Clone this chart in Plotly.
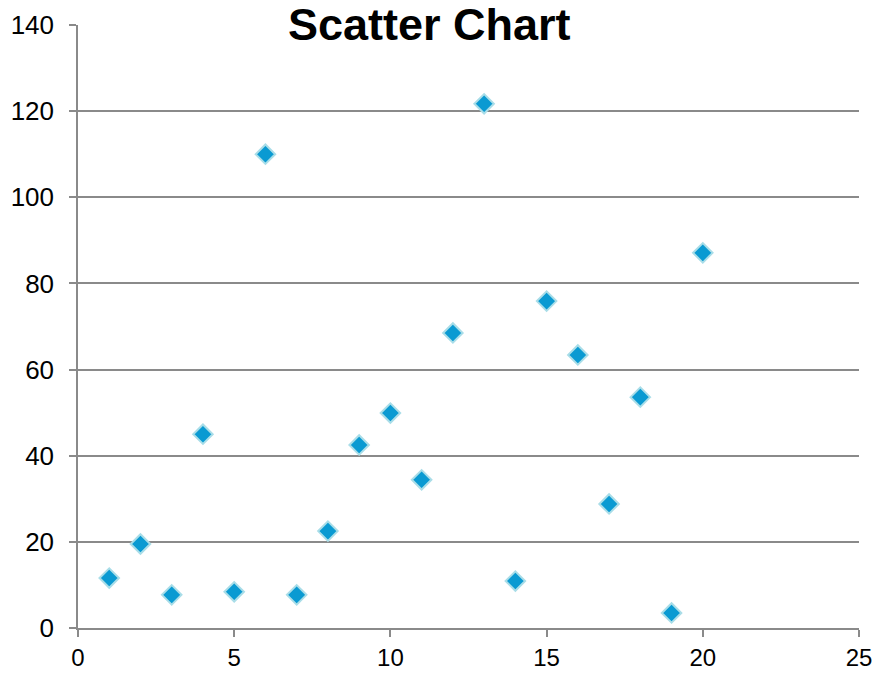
import plotly.graph_objects as go

x_values = [1, 2, 3, 4, 5, 6, 7, 8, 9, 10, 11, 12, 13, 14, 15, 16, 17, 18, 19, 20]
y_values = [11.6, 19.5, 7.7, 45.0, 8.4, 110.0, 7.7, 22.5, 42.5, 49.9,
            34.4, 68.5, 121.7, 10.9, 75.9, 63.4, 28.8, 53.6, 3.5, 87.1]
chart_title = "Scatter Chart"

fig = go.Figure()
fig.add_trace(go.Scatter(
    x=x_values, y=y_values, mode="markers",
    marker=dict(symbol="diamond", size=15, color="#0a9ad2",
                line=dict(color="#a9dde8", width=2)),
    showlegend=False, cliponaxis=False,
))

axis_gray = "#8a8a8a"
fig.update_layout(
    width=881, height=673,
    margin=dict(l=78, r=22, t=25, b=45, autoexpand=False),
    paper_bgcolor="white", plot_bgcolor="white",
    font=dict(family="Liberation Sans, Arial, sans-serif", size=26, color="black"),
    annotations=[dict(
        text="<b>" + chart_title + "</b>", x=0.4507, xref="paper", xanchor="center",
        y=1, yref="paper", yanchor="middle", yshift=1, showarrow=False,
        font=dict(size=45, color="black", family="Liberation Sans, Arial, sans-serif"),
    )],
)
fig.update_xaxes(
    range=[0, 25], dtick=5, tick0=0, showgrid=False, zeroline=False,
    showline=True, linecolor=axis_gray, linewidth=1.5, automargin=False,
    ticks="outside", ticklen=7, tickwidth=1.5, tickcolor=axis_gray,
    ticklabelstandoff=0, tickfont=dict(size=24),
)
fig.update_yaxes(
    range=[0, 140], dtick=20, tick0=0, showgrid=True, gridcolor=axis_gray, gridwidth=1.5,
    zeroline=False, showline=True, linecolor=axis_gray, linewidth=1.5, automargin=False,
    ticks="outside", ticklen=7, tickwidth=1.5, tickcolor=axis_gray,
    ticklabelstandoff=10,
)

fig.write_html("out.html", config={"displayModeBar": False},
               post_script="document.body.style.margin='0';document.body.style.overflow='hidden';")
